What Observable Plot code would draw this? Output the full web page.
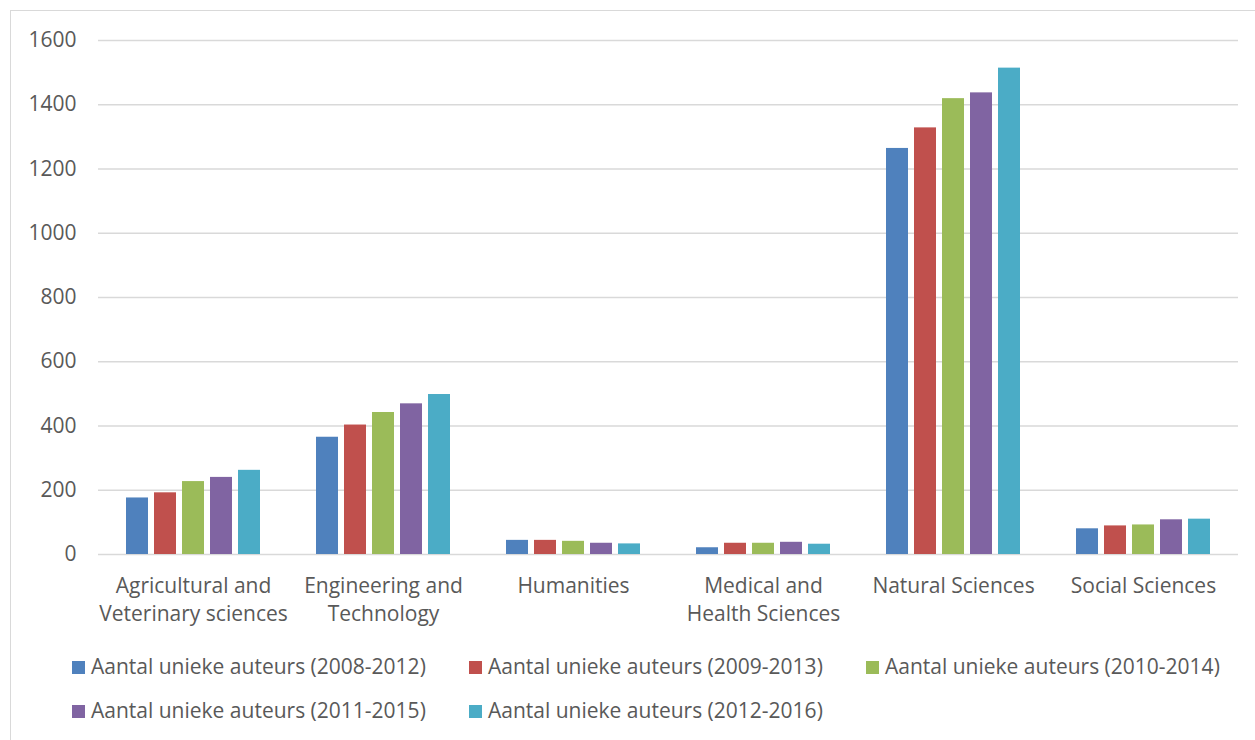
<!DOCTYPE html>
<html>
<head>
<meta charset="utf-8">
<script src="https://cdn.jsdelivr.net/npm/d3@7"></script>
<script src="https://cdn.jsdelivr.net/npm/@observablehq/plot@0.6"></script>
<style>
  html, body { margin: 0; padding: 0; background: #fff; overflow: hidden; }
  #frame { position: absolute; left: 10px; top: 10px; width: 1300px; height: 800px; border: 1px solid #d9d9d9; box-sizing: border-box; }
  #chart { position: absolute; left: 0; top: 0; }
  #legend { position: absolute; left: 72px; top: 652px; width: 1220px; display: flex; flex-wrap: wrap; font-family: "Open Sans", sans-serif; font-size: 21px; color: #595959; }
  .item { width: 397px; height: 44px; display: flex; align-items: flex-start; white-space: nowrap; }
  .sw { width: 13px; height: 13px; margin-top: 9px; margin-right: 6px; flex: none; }
</style>
</head>
<body>
<div id="frame"></div>
<div id="chart"></div>
<div id="legend"></div>
<script>
const categories = ["Agricultural and\nVeterinary sciences", "Engineering and\nTechnology", "Humanities", "Medical and\nHealth Sciences", "Natural Sciences", "Social Sciences"];
const series = ["Aantal unieke auteurs (2008-2012)", "Aantal unieke auteurs (2009-2013)", "Aantal unieke auteurs (2010-2014)", "Aantal unieke auteurs (2011-2015)", "Aantal unieke auteurs (2012-2016)"];
const v2008 = [176, 365, 44, 21, 1264, 80];
const v2009 = [192, 403, 44, 35, 1328, 89];
const v2010 = [227, 442, 41, 35, 1419, 92];
const v2011 = [240, 469, 35, 38, 1437, 108];
const v2012 = [262, 498, 33, 32, 1514, 110];
const yTicks = [0, 200, 400, 600, 800, 1000, 1200, 1400, 1600];
const colors = ["#4F81BD", "#C0504D", "#9BBB59", "#8064A2", "#4BACC6"];

const allValues = [v2008, v2009, v2010, v2011, v2012];
const data = [];
categories.forEach((c, i) => {
  series.forEach((s, j) => data.push({cat: c, series: s, value: allValues[j][i]}));
});

const chart = Plot.plot({
  width: 1255,
  height: 630,
  marginLeft: 98,
  marginRight: 17,
  marginTop: 40,
  marginBottom: 76,
  style: {fontFamily: "'Open Sans', sans-serif", fontSize: "21px", color: "#595959", background: "transparent"},
  fx: {domain: categories, padding: 0, label: null},
  x: {domain: series, axis: null, paddingInner: 0.207, paddingOuter: 0.88},
  y: {domain: [0, 1600], label: null},
  color: {domain: series, range: colors},
  marks: [
    Plot.gridY(yTicks, {stroke: "#d9d9d9", strokeOpacity: 1, strokeWidth: 1.3}),
    Plot.barY(data, {fx: "cat", x: "series", y: "value", fill: "series"}),
    Plot.axisY(yTicks, {tickSize: 0, tickPadding: 22, label: null, fill: "#595959", tickFormat: d3.format("d")}),
    Plot.axisFx({anchor: "bottom", tickSize: 0, tickPadding: 19, label: null, lineHeight: 1.33, fill: "#595959"})
  ]
});
document.getElementById("chart").appendChild(chart);

const legend = document.getElementById("legend");
series.forEach((s, j) => {
  const item = document.createElement("div");
  item.className = "item";
  const sw = document.createElement("span");
  sw.className = "sw";
  sw.style.background = colors[j];
  const t = document.createElement("span");
  t.textContent = s;
  item.appendChild(sw);
  item.appendChild(t);
  legend.appendChild(item);
});
</script>
</body>
</html>
